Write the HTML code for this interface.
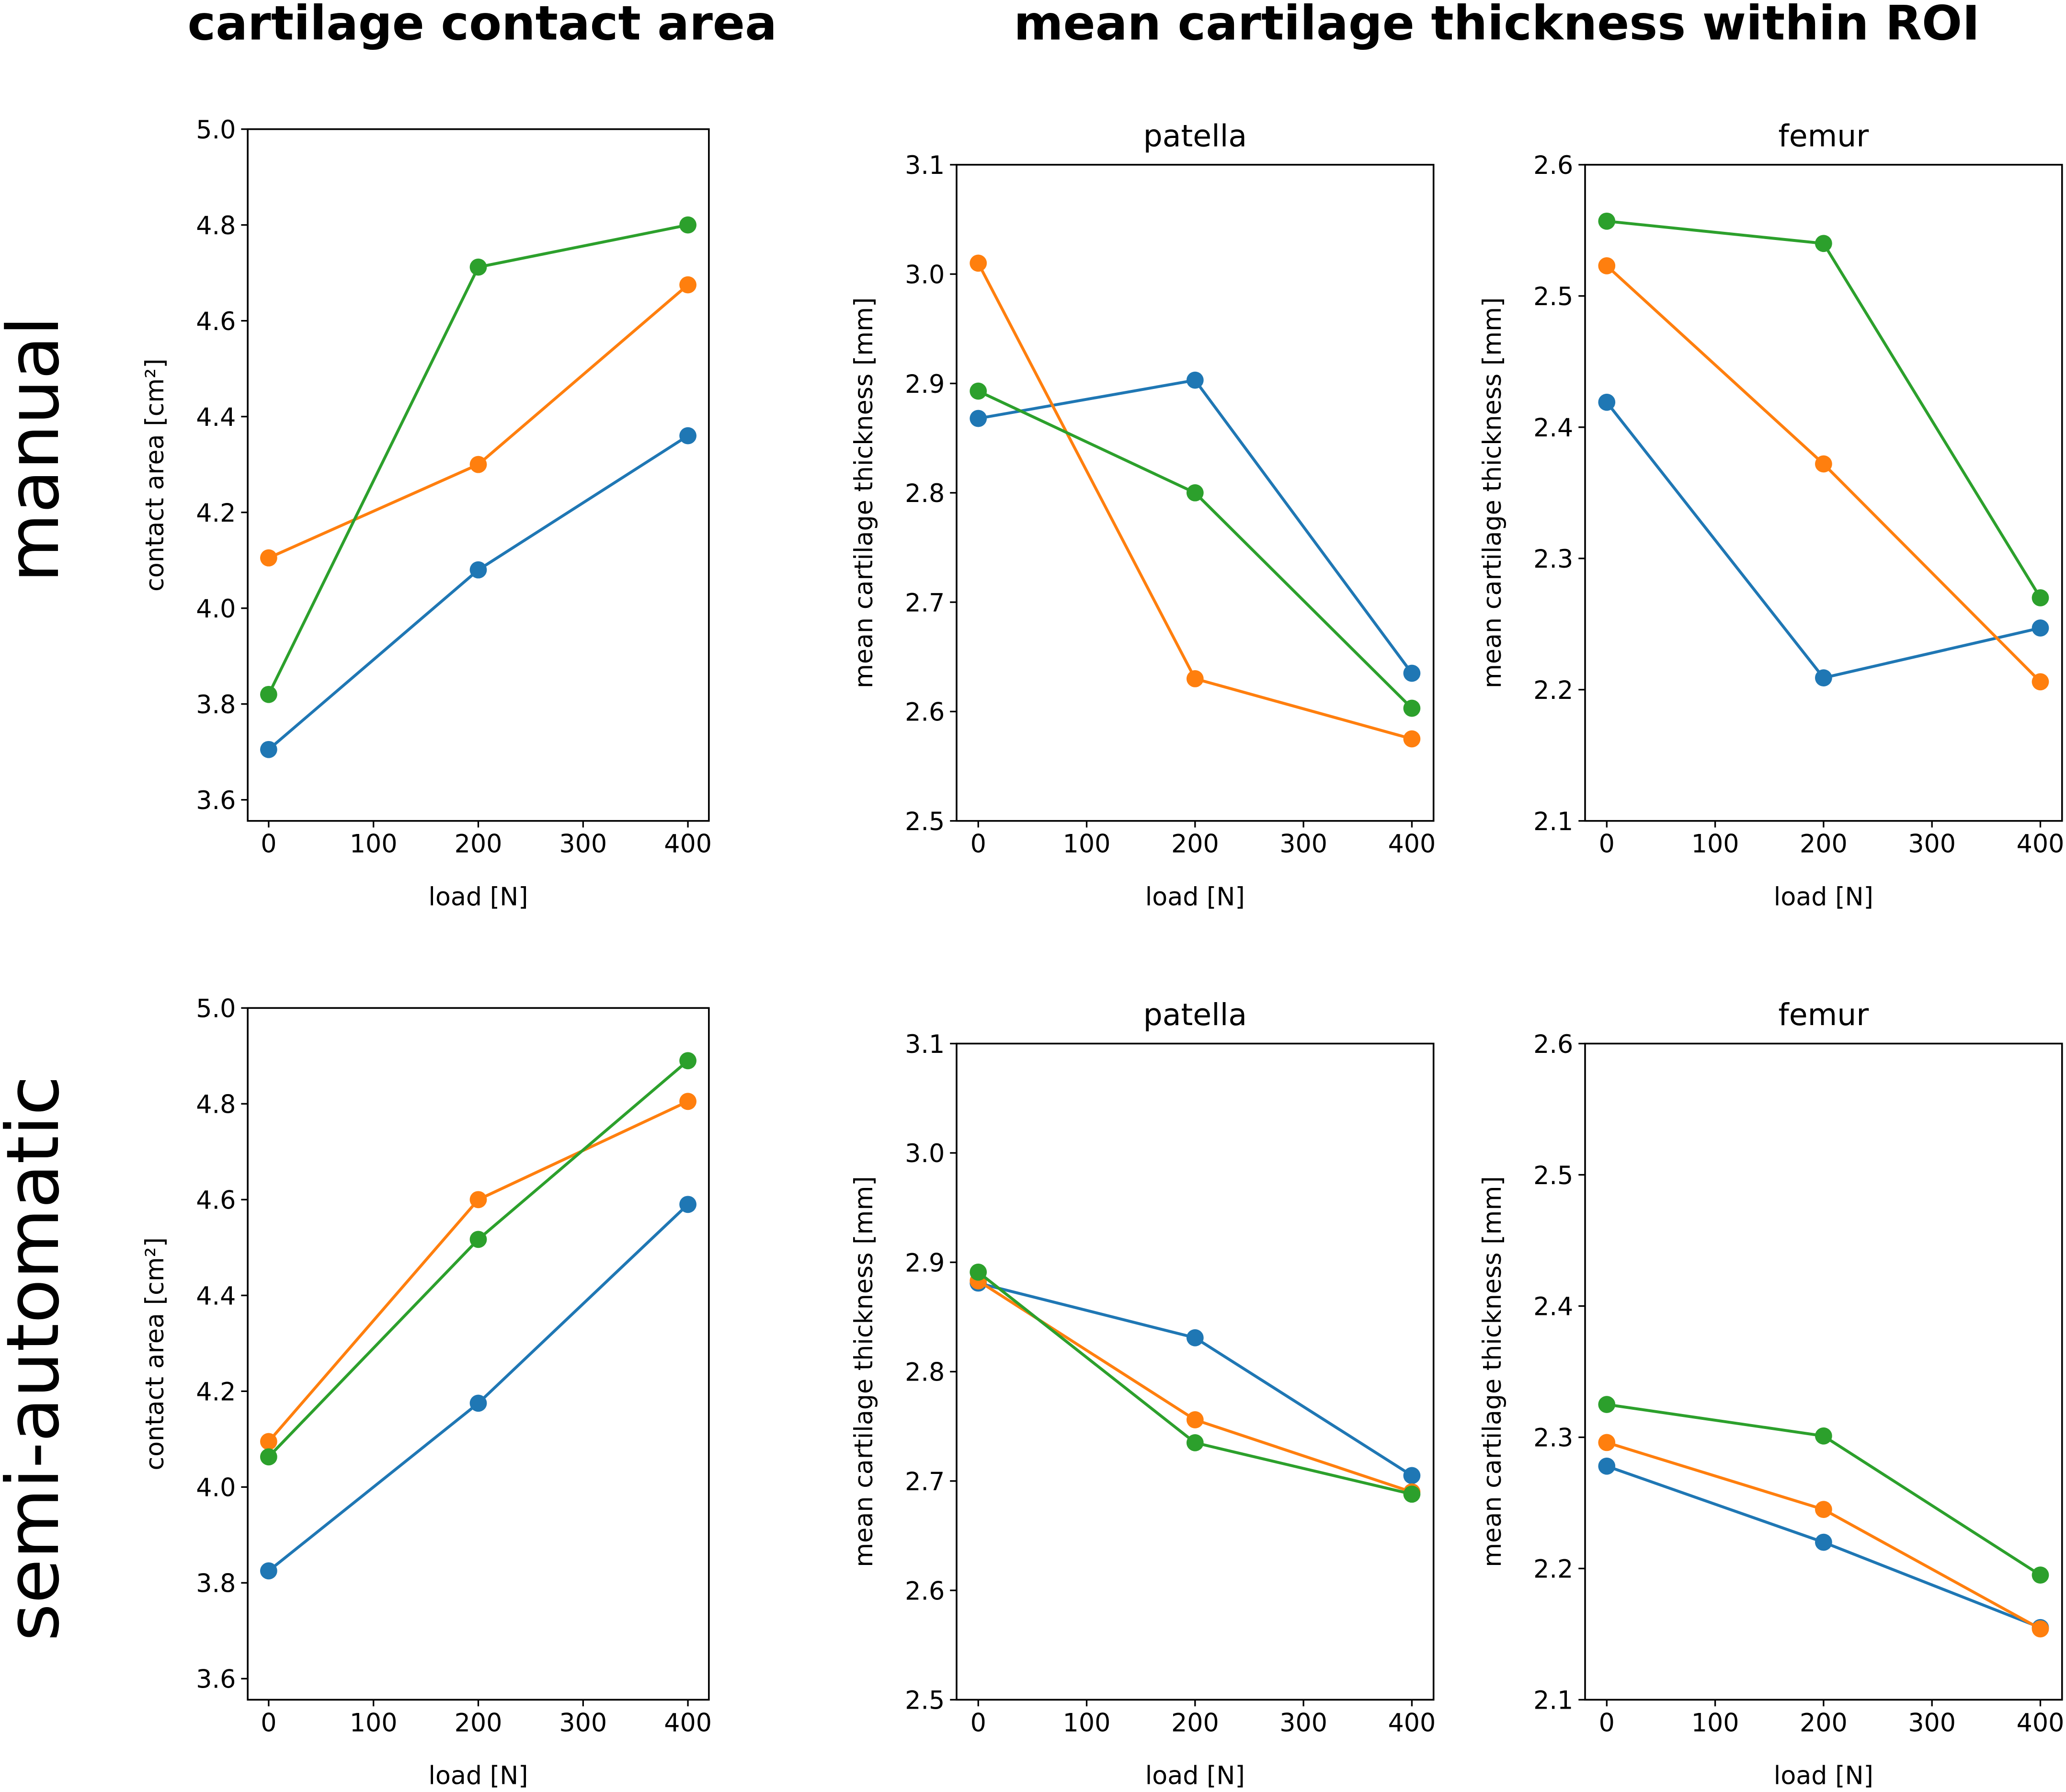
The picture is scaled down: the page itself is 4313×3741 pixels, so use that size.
<!DOCTYPE html>
<html><head><meta charset="utf-8"><style>
html,body{margin:0;padding:0;background:#fff;}
svg{display:block;font-family:"DejaVu Sans","Liberation Sans",sans-serif;}
</style></head><body>
<svg id="fig" width="4313" height="3741" viewBox="0 0 1568 1360" xmlns="http://www.w3.org/2000/svg">
<rect width="1568" height="1360" fill="#fff"/>
<text x="366" y="30" text-anchor="middle" font-size="36" font-weight="bold">cartilage contact area</text>
<text x="1136" y="30" text-anchor="middle" font-size="36" font-weight="bold">mean cartilage thickness within ROI</text>
<text transform="translate(44,341) rotate(-90)" text-anchor="middle" font-size="54">manual</text>
<text transform="translate(44,1031) rotate(-90)" text-anchor="middle" font-size="55">semi-automatic</text>
</svg>
<script>
const loads = [0, 200, 400];
const xTicks = [0, 100, 200, 300, 400];
const seriesColors = ['#1f77b4', '#ff7f0e', '#2ca02c'];
const seriesNames = ['blue', 'orange', 'green'];
// top row: manual
const p1Blue = [3.705, 4.08, 4.36];
const p1Orange = [4.105, 4.30, 4.675];
const p1Green = [3.82, 4.712, 4.80];
const p2Blue = [2.868, 2.903, 2.635];
const p2Orange = [3.01, 2.63, 2.575];
const p2Green = [2.893, 2.80, 2.603];
const p3Blue = [2.419, 2.209, 2.247];
const p3Orange = [2.523, 2.372, 2.206];
const p3Green = [2.557, 2.540, 2.270];
// bottom row: semi-automatic
const p4Blue = [3.825, 4.175, 4.59];
const p4Orange = [4.095, 4.60, 4.805];
const p4Green = [4.063, 4.517, 4.89];
const p5Blue = [2.881, 2.831, 2.705];
const p5Orange = [2.883, 2.756, 2.69];
const p5Green = [2.891, 2.735, 2.688];
const p6Blue = [2.278, 2.220, 2.155];
const p6Orange = [2.296, 2.245, 2.154];
const p6Green = [2.325, 2.301, 2.195];
const areaTicks = [3.6, 3.8, 4.0, 4.2, 4.4, 4.6, 4.8, 5.0];
const patellaTicks = [2.5, 2.6, 2.7, 2.8, 2.9, 3.0, 3.1];
const femurTicks = [2.1, 2.2, 2.3, 2.4, 2.5, 2.6];

const NS = 'http://www.w3.org/2000/svg';
const svg = document.getElementById('fig');
function mk(tag, attrs, parent) {
  const e = document.createElementNS(NS, tag);
  for (const k in attrs) e.setAttribute(k, attrs[k]);
  (parent || svg).appendChild(e);
  return e;
}
const panels = [
  {id:'area-manual', L:188, R:538, T:98, B:623, ymin:3.556, ymax:5.0, ticks:areaTicks, dec:1, ylabel:'contact area [cm²]', title:null, series:[p1Blue,p1Orange,p1Green]},
  {id:'patella-manual', L:726, R:1088, T:125, B:623, ymin:2.5, ymax:3.1, ticks:patellaTicks, dec:1, ylabel:'mean cartilage thickness [mm]', title:'patella', series:[p2Blue,p2Orange,p2Green]},
  {id:'femur-manual', L:1203, R:1565, T:125, B:623, ymin:2.1, ymax:2.6, ticks:femurTicks, dec:1, ylabel:'mean cartilage thickness [mm]', title:'femur', series:[p3Blue,p3Orange,p3Green]},
  {id:'area-semi', L:188, R:538, T:765, B:1290, ymin:3.556, ymax:5.0, ticks:areaTicks, dec:1, ylabel:'contact area [cm²]', title:null, series:[p4Blue,p4Orange,p4Green]},
  {id:'patella-semi', L:726, R:1088, T:792, B:1290, ymin:2.5, ymax:3.1, ticks:patellaTicks, dec:1, ylabel:'mean cartilage thickness [mm]', title:'patella', series:[p5Blue,p5Orange,p5Green]},
  {id:'femur-semi', L:1203, R:1565, T:792, B:1290, ymin:2.1, ymax:2.6, ticks:femurTicks, dec:1, ylabel:'mean cartilage thickness [mm]', title:'femur', series:[p6Blue,p6Orange,p6Green]}
];
panels.forEach(p => {
  const g = mk('g', {});
  
  
  const xs = v => p.L + (v + 20) / 440 * (p.R - p.L);
  const ys = v => p.B - (v - p.ymin) / (p.ymax - p.ymin) * (p.B - p.T);
  p.series.forEach((vals, si) => {
    const pts = loads.map((x, i) => xs(x) + ',' + ys(vals[i])).join(' ');
    const line = mk('polyline', {points: pts, fill:'none', stroke:seriesColors[si], 'stroke-width':2.2}, g);
    
    
    loads.forEach((x, i) => {
      const c = mk('circle', {cx: xs(x), cy: ys(vals[i]), r: 6.5, fill: seriesColors[si]}, g);
      
      
    });
  });
  const frame = mk('rect', {x:p.L, y:p.T, width:p.R-p.L, height:p.B-p.T, fill:'none', stroke:'#000', 'stroke-width':1.3}, g);
  
  
  xTicks.forEach(t => {
    const x = xs(t);
    mk('line', {x1:x, x2:x, y1:p.B, y2:p.B+5, stroke:'#000', 'stroke-width':1.2}, g);
    const tx = mk('text', {x:x, y:p.B+24, 'text-anchor':'middle', 'font-size':19}, g);
    tx.textContent = t;
    
    
  });
  p.ticks.forEach(t => {
    const y = ys(t);
    mk('line', {x1:p.L-5, x2:p.L, y1:y, y2:y, stroke:'#000', 'stroke-width':1.2}, g);
    const ty = mk('text', {x:p.L-9, y:y+7, 'text-anchor':'end', 'font-size':19}, g);
    ty.textContent = t.toFixed(p.dec);
    
    
  });
  const xl = mk('text', {x:(p.L+p.R)/2, y:p.B+64, 'text-anchor':'middle', 'font-size':19}, g);
  xl.textContent = 'load [N]';
  
  
  const cy = (p.T + p.B) / 2;
  const yl = mk('text', {transform:'translate(' + (p.L-64) + ',' + cy + ') rotate(-90)', 'text-anchor':'middle', 'font-size':19}, g);
  yl.textContent = p.ylabel;
  
  
  if (p.title) {
    const tt = mk('text', {x:(p.L+p.R)/2, y:p.T-14, 'text-anchor':'middle', 'font-size':23}, g);
    tt.textContent = p.title;
    
    
  }
});
</script>
</body></html>
